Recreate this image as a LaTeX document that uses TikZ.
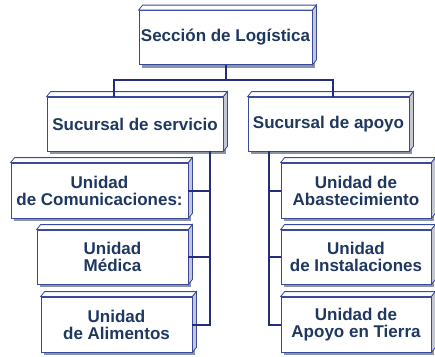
\documentclass[tikz,border=0pt]{standalone}
\usepackage{fontspec}
\setmainfont{Liberation Sans}
\usepackage{tikz}
\usetikzlibrary{positioning,calc,shadows}
\definecolor{tinta}{RGB}{31,56,96}
\definecolor{marino}{RGB}{36,46,120}
\definecolor{borde}{RGB}{58,74,155}
\definecolor{lado}{RGB}{196,198,210}
\definecolor{sombra}{RGB}{138,148,166}

% caras del bloque 3D
\newcommand{\caja}[1]{%
  \draw[borde, fill=white, line width=0.8pt] (#1.north west) -- ++(4,-5) -- ($(#1.north east)+(4,-5)$) -- (#1.north east) -- cycle;
  \draw[borde, fill=lado, line width=0.8pt] (#1.north east) -- ++(4,-5) -- ($(#1.south east)+(4,-5)$) -- (#1.south east) -- cycle;
}

\begin{document}
\begin{tikzpicture}[x=1pt, y=-1pt]
  \tikzstyle{bloque} = [rectangle, draw=borde, line width=0.8pt, fill=white, text=tinta, align=center, inner sep=0pt,
    font=\fontsize{17}{17}\selectfont\bfseries, minimum height=54pt,
    drop shadow={shadow xshift=3pt, shadow yshift=-3pt, fill=sombra, opacity=1}]
  \tikzstyle{linea} = [draw=marino, line width=2pt]

  \useasboundingbox (0,0) rectangle (435,356);

  \node[bloque, minimum width=173pt] (seccion) at (225.5,37.5) {Sección de Logística};
  \node[bloque, minimum width=176pt] (servicio) at (135,124) {Sucursal de servicio};
  \node[bloque, minimum width=161pt] (apoyo) at (328.5,124) {Sucursal de apoyo};

  \node[bloque, minimum width=177pt, minimum height=55pt] (comunic) at (99.5,190.5) {Unidad\\de Comunicaciones:};
  \node[bloque, minimum width=151pt] (medica) at (112.5,257) {Unidad\\Médica};
  \node[bloque, minimum width=151pt, minimum height=55pt] (alimentos) at (116.5,324.5) {Unidad\\de Alimentos};

  \node[bloque, minimum width=150pt, minimum height=55pt] (abast) at (356,190.5) {Unidad de\\Abastecimiento};
  \node[bloque, minimum width=150pt] (instal) at (356,257) {Unidad\\de Instalaciones};
  \node[bloque, minimum width=150pt, minimum height=55pt] (tierra) at (356,324.5) {Unidad de\\Apoyo en Tierra};

  \foreach \b in {seccion,servicio,apoyo,comunic,medica,alimentos,abast,instal,tierra}{
    \caja{\b}
  }

  \coordinate (ramaI) at (114,80);
  \coordinate (ramaD) at (333,80);
  \coordinate (ejeI) at (210,0);
  \coordinate (ejeD) at (269,0);

  \draw[linea] (seccion.south) |- (ramaI) -- (ramaI |- servicio.north);
  \draw[linea] (seccion.south) |- (ramaD) -- (ramaD |- apoyo.north);

  \draw[linea] (ejeI |- servicio.south) |- (alimentos.east);
  \draw[linea] (ejeI |- comunic.east) -- (comunic.east);
  \draw[linea] (ejeI |- medica.east) -- (medica.east);

  \draw[linea] (ejeD |- apoyo.south) |- (tierra.west);
  \draw[linea] (ejeD |- abast.west) -- (abast.west);
  \draw[linea] (ejeD |- instal.west) -- (instal.west);
\end{tikzpicture}
\end{document}
